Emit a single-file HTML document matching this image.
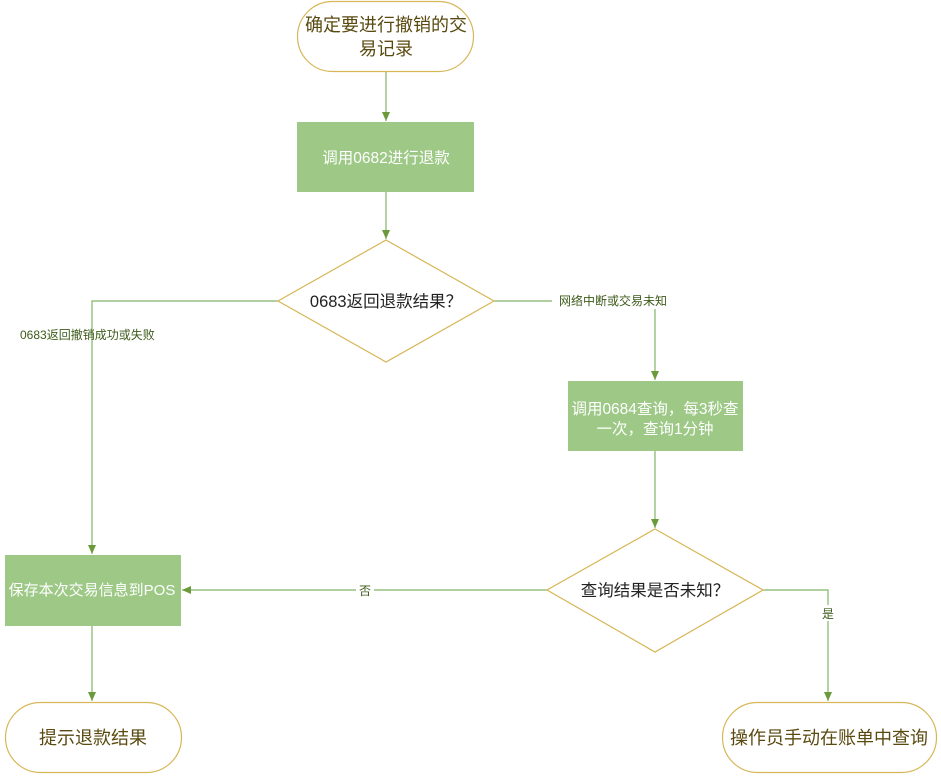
<!DOCTYPE html>
<html><head><meta charset="utf-8"><style>
html,body{margin:0;padding:0;background:#fff;}
svg{display:block;font-family:"Liberation Sans","Noto Sans CJK SC",sans-serif;}
</style></head><body>
<svg width="941" height="776" viewBox="0 0 941 776" xmlns="http://www.w3.org/2000/svg">
<defs><marker id="a" markerWidth="10" markerHeight="10" refX="9" refY="5" orient="auto" markerUnits="userSpaceOnUse"><path d="M0,1 L9,5 L0,9 Z" fill="#6a9a3a"/></marker></defs>
<g stroke="#82b366" stroke-width="1.2" fill="none">
<path d="M386,71 V121" marker-end="url(#a)"/>
<path d="M386,192 V239" marker-end="url(#a)"/>
<path d="M278,301 H92 V554" marker-end="url(#a)"/>
<path d="M494,301 H655 V380" marker-end="url(#a)"/>
<path d="M655,451 V528" marker-end="url(#a)"/>
<path d="M547,590 H182" marker-end="url(#a)"/>
<path d="M763,590 H828 V701" marker-end="url(#a)"/>
<path d="M92,626 V701" marker-end="url(#a)"/>
</g>
<g fill="#fff" stroke="#d6b656" stroke-width="1.2">
<rect x="297.5" y="1.5" width="176" height="70" rx="35"/>
<rect x="5.5" y="702.5" width="176" height="70" rx="35"/>
<rect x="722.5" y="702.5" width="214" height="70" rx="35"/>
<path d="M386,240 L494,301 L386,362 L278,301 Z"/>
<path d="M655,529 L763,590 L655,652 L547,590 Z"/>
</g>
<g fill="#9dc886">
<rect x="297" y="122" width="177" height="70"/>
<rect x="568" y="381" width="175" height="70"/>
<rect x="5" y="555" width="176" height="71"/>
</g>
<g fill="#fff">
<rect x="552" y="293" width="122" height="16"/>
<rect x="356" y="582" width="18" height="16"/>
<rect x="820" y="605" width="16" height="16"/>
</g>
<g font-size="18" fill="#5a4a10" text-anchor="middle">
<text x="386" y="31">确定要进行撤销的交</text>
<text x="386" y="55">易记录</text>
<text x="93" y="744">提示退款结果</text>
<text x="829" y="744">操作员手动在账单中查询</text>
</g>
<g font-size="16.5" fill="#222" text-anchor="middle">
<text x="386" y="307">0683返回退款结果？</text>
<text x="655" y="596">查询结果是否未知？</text>
</g>
<g font-size="15.5" fill="#fff" text-anchor="middle">
<text x="386" y="163">调用0682进行退款</text>
<text x="655" y="414">调用0684查询，每3秒查</text>
<text x="655" y="434">一次，查询1分钟</text>
<text x="92" y="595" font-size="15">保存本次交易信息到POS</text>
</g>
<g font-size="12" fill="#3d5a1a">
<text x="20" y="339">0683返回撤销成功或失败</text>
<text x="613" y="305" text-anchor="middle">网络中断或交易未知</text>
<text x="365" y="595" text-anchor="middle">否</text>
<text x="828" y="618" text-anchor="middle">是</text>
</g>
</svg>
</body></html>
